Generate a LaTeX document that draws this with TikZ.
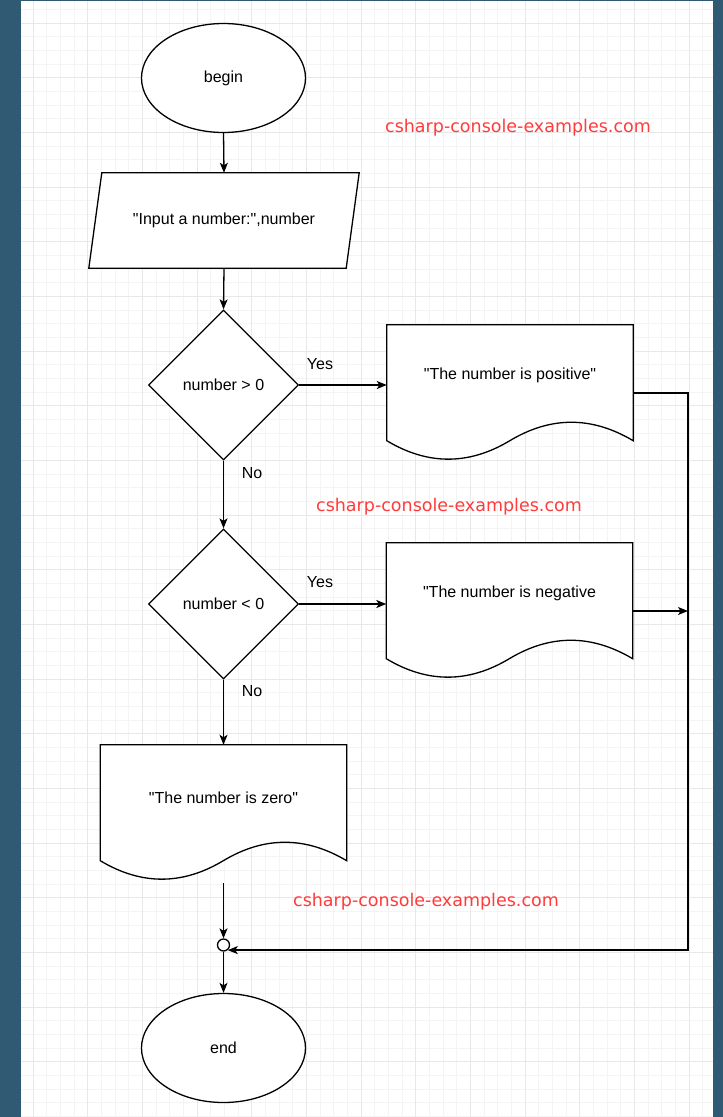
\documentclass[tikz,border=0pt]{standalone}
\usepackage{fontspec}
\setmainfont{Liberation Sans}[Ligatures=TeXOff]
\newfontfamily\wmfont{DejaVu Sans}[Ligatures=TeXOff]
\usetikzlibrary{shapes.geometric,arrows.meta,calc}

\definecolor{frame}{HTML}{305A74}
\definecolor{gridminor}{HTML}{F4F4F4}
\definecolor{gridmajor}{HTML}{E8E8E8}
\definecolor{wmred}{HTML}{FF3B3B}

\tikzset{
  shapeline/.style={draw=black, line width=1.3pt, fill=white},
  terminal/.style={shapeline, ellipse, minimum width=164pt, minimum height=109pt, inner sep=0pt},
  decision/.style={shapeline, diamond, minimum width=150pt, minimum height=150pt, inner sep=0pt},
  docbox/.style={rectangle, minimum width=246pt, minimum height=136pt, inner sep=0pt},
  iobox/.style={rectangle, minimum width=270pt, minimum height=95pt, inner sep=0pt},
  txt/.style={font=\fontsize{16}{19}\selectfont, inner sep=0pt},
  flow/.style={line width=1.3pt, -{Stealth[length=10pt,width=8pt,inset=2.5pt]}},
  watermark/.style={font=\wmfont\fontsize{17.5}{20}\selectfont, text=wmred, inner sep=0pt},
  junction/.style={shapeline, circle, minimum size=12pt, inner sep=0pt},
  gridthin/.style={draw=gridminor, line width=0.9pt},
  gridthick/.style={draw=gridmajor, line width=0.9pt},
}

% document symbol: flat top, wavy bottom edge
\newcommand\docoutline[1]{%
  \draw[shapeline] (#1.north west) -- (#1.north east) -- ([yshift=20.5pt]#1.south east)
    .. controls ([xshift=205pt,yshift=45.1pt]#1.south west) and ([xshift=164pt,yshift=45.1pt]#1.south west)
    .. ([xshift=123pt,yshift=20.5pt]#1.south west)
    .. controls ([xshift=82pt,yshift=-4.1pt]#1.south west) and ([xshift=41pt,yshift=-4.1pt]#1.south west)
    .. ([yshift=20.5pt]#1.south west) -- cycle;}

\begin{document}
\begin{tikzpicture}[x=1pt, y=-1pt]
\useasboundingbox (0,0) rectangle (723,1117);

% page frame and canvas
\fill[frame] (0,0) rectangle (723,1117);
\fill[white] (21,1) rectangle (713,1117);

% grid
\foreach \k in {0,...,49}
  \draw[gridthin] ({33+13.6667*\k},1) -- ({33+13.6667*\k},1117);
\foreach \k in {-1,...,80}
  \draw[gridthin] (21,{23+13.6667*\k}) -- (713,{23+13.6667*\k});
\foreach \k in {0,...,12}
  \draw[gridthick] ({33+54.6667*\k},1) -- ({33+54.6667*\k},1117);
\foreach \k in {0,...,19}
  \draw[gridthick] (21,{23+54.6667*\k}) -- (713,{23+54.6667*\k});

% start
\node[terminal, txt] (begin) at (223.5,78) {begin};

% input
\node[iobox] (input) at (224,220.5) {};
\draw[shapeline] ([xshift=13pt]input.north west) -- (input.north east)
  -- ([xshift=-13pt]input.south east) -- (input.south west) -- cycle;
\node[txt] (inputtxt) at (input.center) {"Input a number:",number};

% decisions
\node[decision, txt] (dec1) at (223.5,385) {number > 0};
\node[decision, txt] (dec2) at (223.5,604) {number < 0};

% outputs
\node[docbox] (doc1) at (510,393) {};
\docoutline{doc1}
\node[txt] (doc1txt) at ([yshift=18pt]doc1.center) {"The number is positive"};

\node[docbox] (doc2) at (509.5,611) {};
\docoutline{doc2}
\node[txt] (doc2txt) at ([yshift=18pt]doc2.center) {"The number is negative};

\node[docbox] (doc3) at (223.5,813) {};
\docoutline{doc3}
\node[txt] (doc3txt) at ([yshift=15pt]doc3.center) {"The number is zero"};

% join and stop
\node[junction] (merge) at (223.5,945) {};
\node[terminal, txt] (end) at (223.5,1048) {end};
\coordinate (rail) at (688,393);

% connectors
\draw[flow] (begin.south) -- (input.north);
\draw[flow] (input.south) -- (dec1.north);
\draw[flow] (dec1.east) -- (dec1.east -| doc1.west);
\draw[flow] (dec1.south) -- (dec2.north);
\draw[flow] (dec2.east) -- (dec2.east -| doc2.west);
\draw[flow] (dec2.south) -- (doc3.north);
\draw[flow] (doc1.east) -- (rail) |- (merge.-50);
\draw[flow] (doc2.east) -- (doc2.east -| rail);
\draw[flow] ([yshift=-2pt]doc3.south) -- (merge.north);
\draw[flow] (merge.south) -- (end.north);

% branch labels
\node[txt] (yes1) at (320,364) {Yes};
\node[txt] (no1) at (252,473) {No};
\node[txt] (yes2) at (320,582) {Yes};
\node[txt] (no2) at (252,691) {No};

% site marks
\node[watermark] (wm1) at (518,128) {csharp-console-examples.com};
\node[watermark] (wm2) at (449,507) {csharp-console-examples.com};
\node[watermark] (wm3) at (426,902) {csharp-console-examples.com};
\end{tikzpicture}
\end{document}
